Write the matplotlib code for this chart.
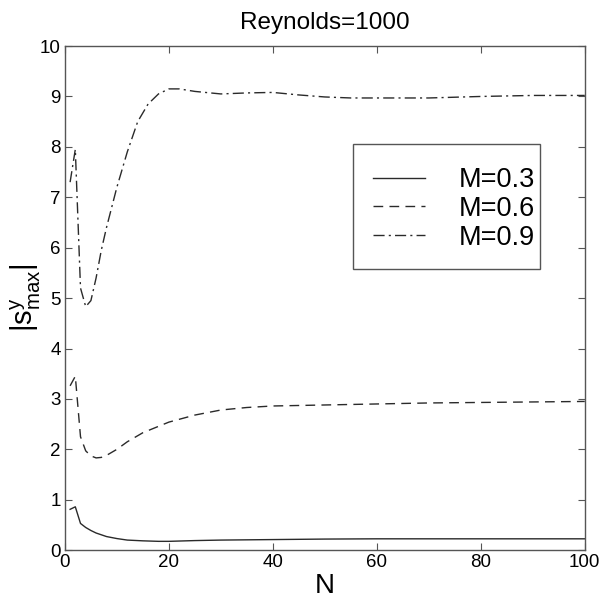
import matplotlib
matplotlib.use("Agg")
import matplotlib.pyplot as plt
from matplotlib.patches import Rectangle

plt.rcParams['font.family'] = ['Liberation Sans', 'DejaVu Sans']
plt.rcParams['mathtext.fontset'] = 'custom'
plt.rcParams['mathtext.rm'] = 'Liberation Sans'
plt.rcParams['mathtext.it'] = 'Liberation Sans:italic'

N_03 = [1, 2, 3, 4, 5, 6, 8, 10, 12, 15, 18, 20, 25, 30, 40, 50, 60, 70, 80, 90, 100]
S_03 = [0.81, 0.86, 0.53, 0.45, 0.39, 0.34, 0.27, 0.23, 0.2, 0.185, 0.175, 0.175,
        0.19, 0.2, 0.21, 0.22, 0.225, 0.225, 0.225, 0.225, 0.225]

N_06 = [1, 2, 3, 4, 5, 6, 7, 8, 10, 12, 15, 20, 25, 30, 35, 40, 50, 60, 70, 80, 90, 100]
S_06 = [3.26, 3.45, 2.25, 1.97, 1.87, 1.83, 1.84, 1.88, 2.0, 2.15, 2.33, 2.54, 2.68,
        2.78, 2.83, 2.86, 2.88, 2.9, 2.92, 2.93, 2.94, 2.95]

N_09 = [1, 2, 3, 4, 5, 6, 7, 8, 9, 10, 12, 14, 16, 18, 20, 22, 25, 30, 35, 40, 45,
        50, 55, 60, 70, 80, 90, 100]
S_09 = [7.3, 7.95, 5.2, 4.83, 4.95, 5.4, 5.95, 6.4, 6.8, 7.2, 7.9, 8.5, 8.85, 9.05,
        9.15, 9.15, 9.1, 9.05, 9.07, 9.08, 9.03, 8.99, 8.97, 8.97, 8.97, 9.0, 9.02, 9.02]

labels = ['M=0.3', 'M=0.6', 'M=0.9']
title = 'Reynolds=1000'

fig = plt.figure(figsize=(6.01, 5.98), dpi=100)
ax = fig.add_axes([0.108, 0.080, 0.865, 0.843])

col = '#2a2a2a'
ax.plot(N_03, S_03, color=col, lw=1.0, ls='-', label=labels[0])
ax.plot(N_06, S_06, color=col, lw=1.0, ls=(0, (7, 4.5)), label=labels[1])
ax.plot(N_09, S_09, color=col, lw=1.0, ls=(0, (8, 3, 1.5, 3)), label=labels[2])

ax.set_xlim(0, 100)
ax.set_ylim(0, 10)
ax.set_xticks([0, 20, 40, 60, 80, 100])
ax.set_yticks(range(0, 11))
ax.tick_params(direction='in', top=True, right=True, labelsize=13.5, length=5,
               width=0.8, color='#555555', pad=3)
for s in ax.spines.values():
    s.set_color('#555555')
    s.set_linewidth(1.0)

ax.set_xlabel('N', fontsize=20, labelpad=1)
ax.set_ylabel(r'$|\mathrm{s}^{\mathrm{y}}_{\mathrm{max}}|$', fontsize=21, labelpad=-2)
ax.set_title(title, fontsize=17.5, pad=12)

# legend frame
ax.add_patch(Rectangle((0.554, 0.558), 0.359, 0.248, transform=ax.transAxes,
                       facecolor='white', edgecolor='#555555', lw=1.0, zorder=4))
leg = ax.legend(loc='center left', bbox_to_anchor=(0.592, 0.677), fontsize=19.5,
                frameon=False, handlelength=1.92, handletextpad=1.25,
                borderpad=0, labelspacing=0.1, borderaxespad=0)
leg.set_zorder(5)

fig.savefig('out.png', dpi=100)
